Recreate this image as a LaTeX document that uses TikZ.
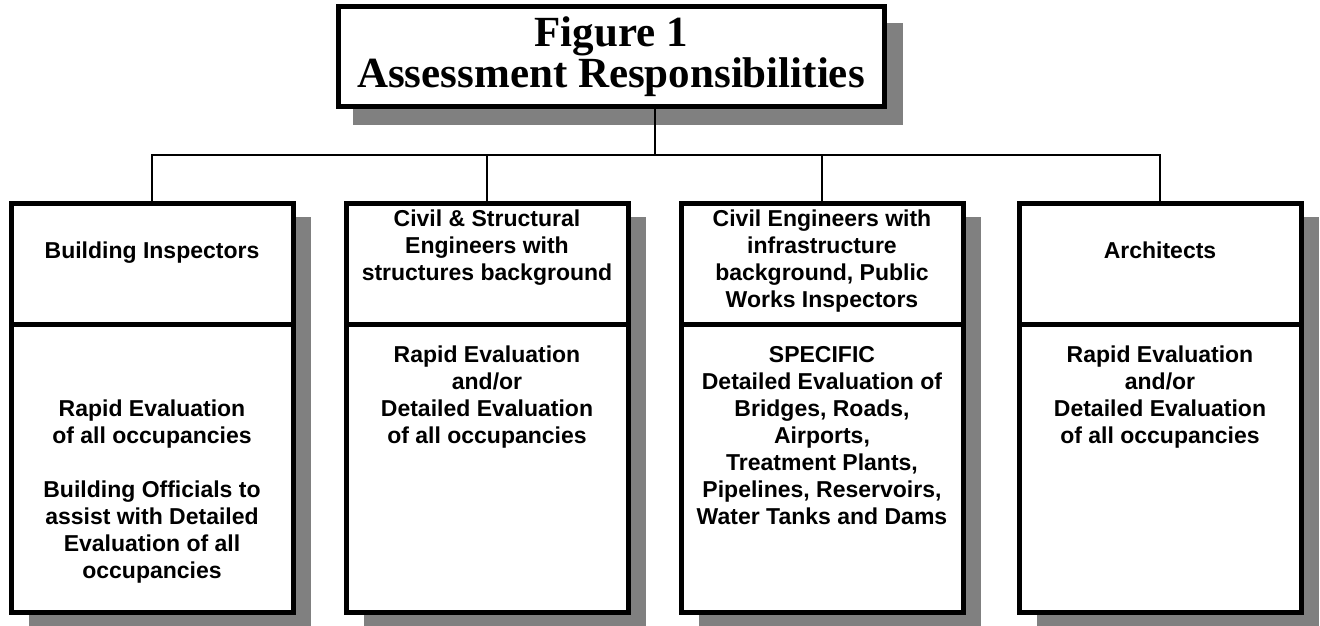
\documentclass[tikz,border=0pt]{standalone}
\usepackage{fontspec}
\setmainfont{Liberation Serif}
\setsansfont{Liberation Sans}
\definecolor{shadowgray}{HTML}{808080}
\begin{document}
\begin{tikzpicture}[x=1pt,y=-1pt,
  box/.style={draw=black,line width=5pt,fill=white,minimum width=282pt,inner sep=0pt,outer sep=0pt},
  lbl/.style={font=\sffamily\bfseries\fontsize{23}{27}\selectfont,align=center,anchor=north,inner sep=0pt},
  link/.style={line width=1.5pt}]
\useasboundingbox (0,0) rectangle (1320,625);
% title
\fill[shadowgray] (353,23) rectangle (903,125);
\node[draw=black,line width=5pt,fill=white,minimum width=546pt,minimum height=100pt,inner sep=0pt,outer sep=0pt] (title) at (611,56) {};
\node[align=center,inner sep=0pt,font=\rmfamily\bfseries\fontsize{43}{41}\selectfont] (titletext) at (611,57)
      {Figure 1\\Assessment Responsibilities};
\coordinate (hub) at (655,155);
% shadows of columns
\foreach \cx in {152,487,822,1160}{
  \fill[shadowgray] (\cx-141+18,217) rectangle (\cx+141+18,626);
}
% columns
\node[box,minimum height=121pt] (h1) at (152,263.5) {};
\node[box,minimum height=288pt] (b1) at (152,468) {};
\node[box,minimum height=121pt] (h2) at (487,263.5) {};
\node[box,minimum height=288pt] (b2) at (487,468) {};
\node[box,minimum height=121pt] (h3) at (822,263.5) {};
\node[box,minimum height=288pt] (b3) at (822,468) {};
\node[box,minimum height=121pt] (h4) at (1160,263.5) {};
\node[box,minimum height=288pt] (b4) at (1160,468) {};
% connectors
\draw[link] (hub) -- (hub |- title.south);
\draw[link] (hub) -| (h1.north);
\draw[link] (hub) -| (h2.north);
\draw[link] (hub) -| (h3.north);
\draw[link] (hub) -| (h4.north);
% labels
\node[lbl] (t1) at (152,242) {Building Inspectors};
\node[lbl] (t2) at (487,210) {Civil \& Structural\\Engineers with\\structures background};
\node[lbl] (t3) at (822,210) {Civil Engineers with\\infrastructure\\background, Public\\Works Inspectors};
\node[lbl] (t4) at (1160,242) {Architects};
\node[lbl] (u1) at (152,400) {Rapid Evaluation\\of all occupancies\\[27pt]Building Officials to\\assist with Detailed\\Evaluation of all\\occupancies};
\node[lbl] (u2) at (487,346) {Rapid Evaluation\\and/or\\Detailed Evaluation\\of all occupancies};
\node[lbl] (u3) at (822,346) {SPECIFIC\\Detailed Evaluation of\\Bridges, Roads,\\Airports,\\Treatment Plants,\\Pipelines, Reservoirs,\\Water Tanks and Dams};
\node[lbl] (u4) at (1160,346) {Rapid Evaluation\\and/or\\Detailed Evaluation\\of all occupancies};
\end{tikzpicture}
\end{document}
